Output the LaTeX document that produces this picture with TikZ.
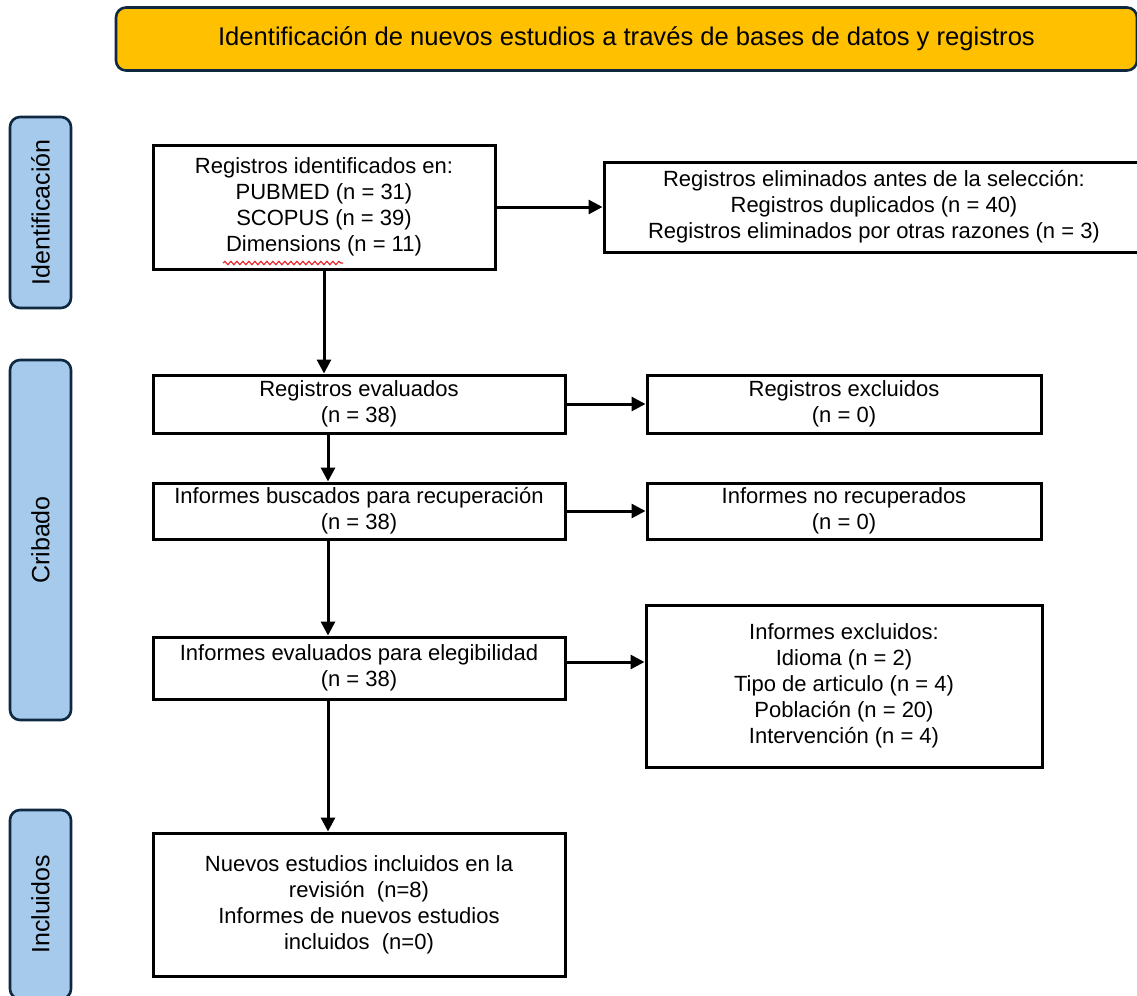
\documentclass[tikz,border=0pt]{standalone}
\usepackage{fontspec}
\setmainfont{Liberation Sans}
\usetikzlibrary{arrows.meta,calc,decorations.pathmorphing}
\definecolor{bannerfill}{HTML}{FFC000}
\definecolor{navy}{HTML}{0E2841}
\definecolor{phasefill}{HTML}{A6CAEC}
\definecolor{spellred}{HTML}{E8242A}
\begin{document}
\begin{tikzpicture}[x=0.5pt,y=-0.5pt,
  box/.style={draw=black,line width=1.5pt,fill=white,align=center,inner sep=0pt,
    font=\fontsize{11}{13}\selectfont},
  phase/.style={draw=navy,line width=1.3pt,fill=phasefill,rounded corners=5pt,
    inner sep=0pt,rotate=90,minimum height=30.5pt,font=\fontsize{12.5}{15}\selectfont},
  banner/.style={draw=navy,line width=1.3pt,fill=bannerfill,rounded corners=5pt,
    inner sep=0pt,font=\fontsize{12.8}{15}\selectfont},
  arr/.style={line width=1.5pt,-{Triangle[length=7pt,width=7pt]}}]
\useasboundingbox (0,0) rectangle (1137,996);

% banner
\node[banner,minimum width=510.5pt,minimum height=31.5pt] (ban) at (626.5,39)
  {Identificación de nuevos estudios a través de bases de datos y registros};

% phase labels
\node[phase,minimum width=95.5pt] (p1) at (40.5,212.5) {Identificación};
\node[phase,minimum width=180pt] (p2) at (40.5,540) {Cribado};
\node[phase,minimum width=94.5pt] (p3) at (40.5,904.5) {Incluidos};

% left column
\node[box,minimum width=171pt,minimum height=62pt] (b1) at (324,207)
  {Registros identificados en:\\PUBMED (n = 31)\\SCOPUS (n = 39)\\Dimensions (n = 11)};
\node[box,minimum width=206pt,minimum height=29pt] (b2) at (359,404)
  {Registros evaluados\\(n = 38)};
\node[box,minimum width=206pt,minimum height=28pt] (b3) at (359,511)
  {Informes buscados para recuperación\\(n = 38)};
\node[box,minimum width=206pt,minimum height=31pt] (b4) at (359,668)
  {Informes evaluados para elegibilidad\\(n = 38)};
\node[box,minimum width=206pt,minimum height=71.5pt] (b5) at (359,904.5)
  {Nuevos estudios incluidos en la\\revisión~~(n=8)\\Informes de nuevos estudios\\incluidos~~(n=0)};

% right column
\node[box,minimum width=270pt,minimum height=45pt] (r1) at (874,207)
  {Registros eliminados antes de la selección:\\Registros duplicados (n = 40)\\Registros eliminados por otras razones (n = 3)};
\node[box,minimum width=197pt,minimum height=29pt] (r2) at (844,404)
  {Registros excluidos\\(n = 0)};
\node[box,minimum width=197pt,minimum height=28pt] (r3) at (844,511)
  {Informes no recuperados\\(n = 0)};
\node[box,minimum width=198pt,minimum height=81pt] (r4) at (844,686)
  {Informes excluidos:\\Idioma (n = 2)\\Tipo de articulo (n = 4)\\Población (n = 20)\\Intervención (n = 4)};

% spell-check squiggle under "Dimensions"
\draw[spellred,line width=0.6pt,decorate,decoration={snake,amplitude=0.8pt,segment length=3pt}]
  (223,263) -- (343,263);

% connectors
\coordinate (ax1) at (324,0);
\coordinate (ax) at (328,0);
\draw[arr] (b1.east) -- (r1.west);
\draw[arr] (b1.south -| ax1) -- (b2.north -| ax1);
\draw[arr] (b2.east) -- (r2.west);
\draw[arr] (b2.south -| ax) -- (b3.north -| ax);
\draw[arr] (b3.east) -- (r3.west);
\draw[arr] (b3.south -| ax) -- (b4.north -| ax);
\coordinate (a4) at ($(b4.east)+(0,-6)$);
\draw[arr] (a4) -- (a4 -| r4.west);
\draw[arr] (b4.south -| ax) -- (b5.north -| ax);
\end{tikzpicture}
\end{document}
